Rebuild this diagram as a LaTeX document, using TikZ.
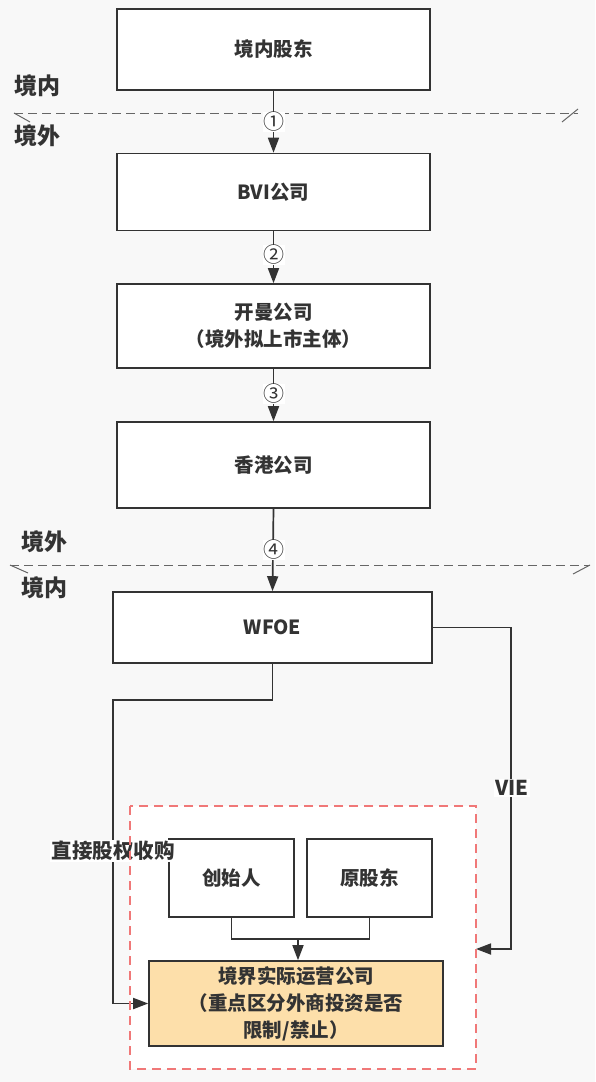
\documentclass[tikz,border=0pt]{standalone}
\usepackage{fontspec}
\setmainfont{Noto Sans CJK SC}
\usetikzlibrary{arrows.meta}
\definecolor{bgc}{HTML}{F8F8F8}
\definecolor{ln}{HTML}{333333}
\definecolor{orangebox}{HTML}{FDDFAA}
\definecolor{reddash}{HTML}{F07878}
\definecolor{dashg}{HTML}{666666}
\tikzset{
  box/.style={draw=ln, line width=1.6pt, fill=white, inner sep=0pt, align=center,
    text=ln, font=\bfseries\fontsize{19.5}{27}\selectfont},
  side/.style={text=ln, inner sep=0pt, font=\bfseries\fontsize{23}{24}\selectfont},
  num/.style={fill=white, text=ln, inner sep=0.5pt, font=\fontsize{21}{21}\selectfont},
  lbl/.style={fill=white, text=ln, inner sep=1.5pt, font=\bfseries\fontsize{20.5}{22}\selectfont},
  conn/.style={draw=ln, line width=1.7pt},
  arr/.style={conn, -{Triangle[length=15pt,width=11pt]}},
  borderline/.style={draw=dashg, line width=1pt, dash pattern=on 9pt off 5pt},
  tick/.style={draw=dashg, line width=1pt},
}
\begin{document}
\begin{tikzpicture}[x=1pt,y=-1pt]
\fill[bgc] (0,0) rectangle (595,1082);
\useasboundingbox (0,0) rectangle (595,1082);

% boundary lines
\draw[borderline] (14,113) -- (578,113);
\draw[tick] (14,113) -- (30,122);
\draw[tick] (562,122) -- (578,109);
\draw[borderline] (10,565) -- (590,565);
\draw[tick] (10,565) -- (28,573);
\draw[tick] (573,574) -- (590,565);

\node[side] (l1) at (37,86) {境内};
\node[side] (l2) at (37,136) {境外};
\node[side] (l3) at (44,542) {境外};
\node[side] (l4) at (44,588) {境内};

% red area background
\fill[white] (130,806) rectangle (476,1069);

% boxes
\node[box, minimum width=313pt, minimum height=81pt] (b1) at (273.5,49.5) {境内股东};
\node[box, minimum width=313pt, minimum height=77pt] (b2) at (273.5,192) {BVI公司};
\node[box, minimum width=313pt, minimum height=84pt] (b3) at (273.5,326) {开曼公司\\（境外拟上市主体）};
\node[box, minimum width=313pt, minimum height=86pt] (b4) at (273.5,465) {香港公司};
\node[box, minimum width=319pt, minimum height=71pt] (b5) at (272.5,627.5) {WFOE};
\node[box, minimum width=125pt, minimum height=78pt] (b6) at (231.5,878) {创始人};
\node[box, minimum width=125pt, minimum height=78pt] (b7) at (369.5,878) {原股东};
\node[box, fill=orangebox, minimum width=294pt, minimum height=85pt] (b8) at (296,1003.5)
  {境界实际运营公司\\（重点区分外商投资是否\\限制/禁止）};

% main chain
\draw[arr] (b1.south) -- (b2.north);
\draw[arr] (b2.south) -- (b3.north);
\draw[arr] (b3.south) -- (b4.north);
\draw[arr] (b4.south) -- (b5.north);
\node[num] (n1) at (273.5,122) {①};
\node[num] (n2) at (273.5,255) {②};
\node[num] (n3) at (273.5,394) {③};
\node[num] (n4) at (273.5,550) {④};

% WFOE -> operating company
\coordinate (w2) at (113,700);
\draw[arr] (b5.south) |- (w2) |- (b8.west);
\node[lbl] (t1) at (113,851) {直接股权收购};

% VIE
\coordinate (v2) at (511,949);
\coordinate (rb) at (476,949);
\draw[arr] (b5.east) -| (v2) -- (rb);
\node[lbl] (t2) at (512,788) {VIE};

% founders
\coordinate (j) at (298,939);
\draw[conn] (b6.south) |- (b7.south |- j) -- (b7.south);
\draw[arr] (j) -- (j |- b8.north);

% red dashed area
\draw[draw=reddash, line width=1.6pt, dash pattern=on 9pt off 6pt] (130,806) rectangle (476,1069);
\end{tikzpicture}
\end{document}
